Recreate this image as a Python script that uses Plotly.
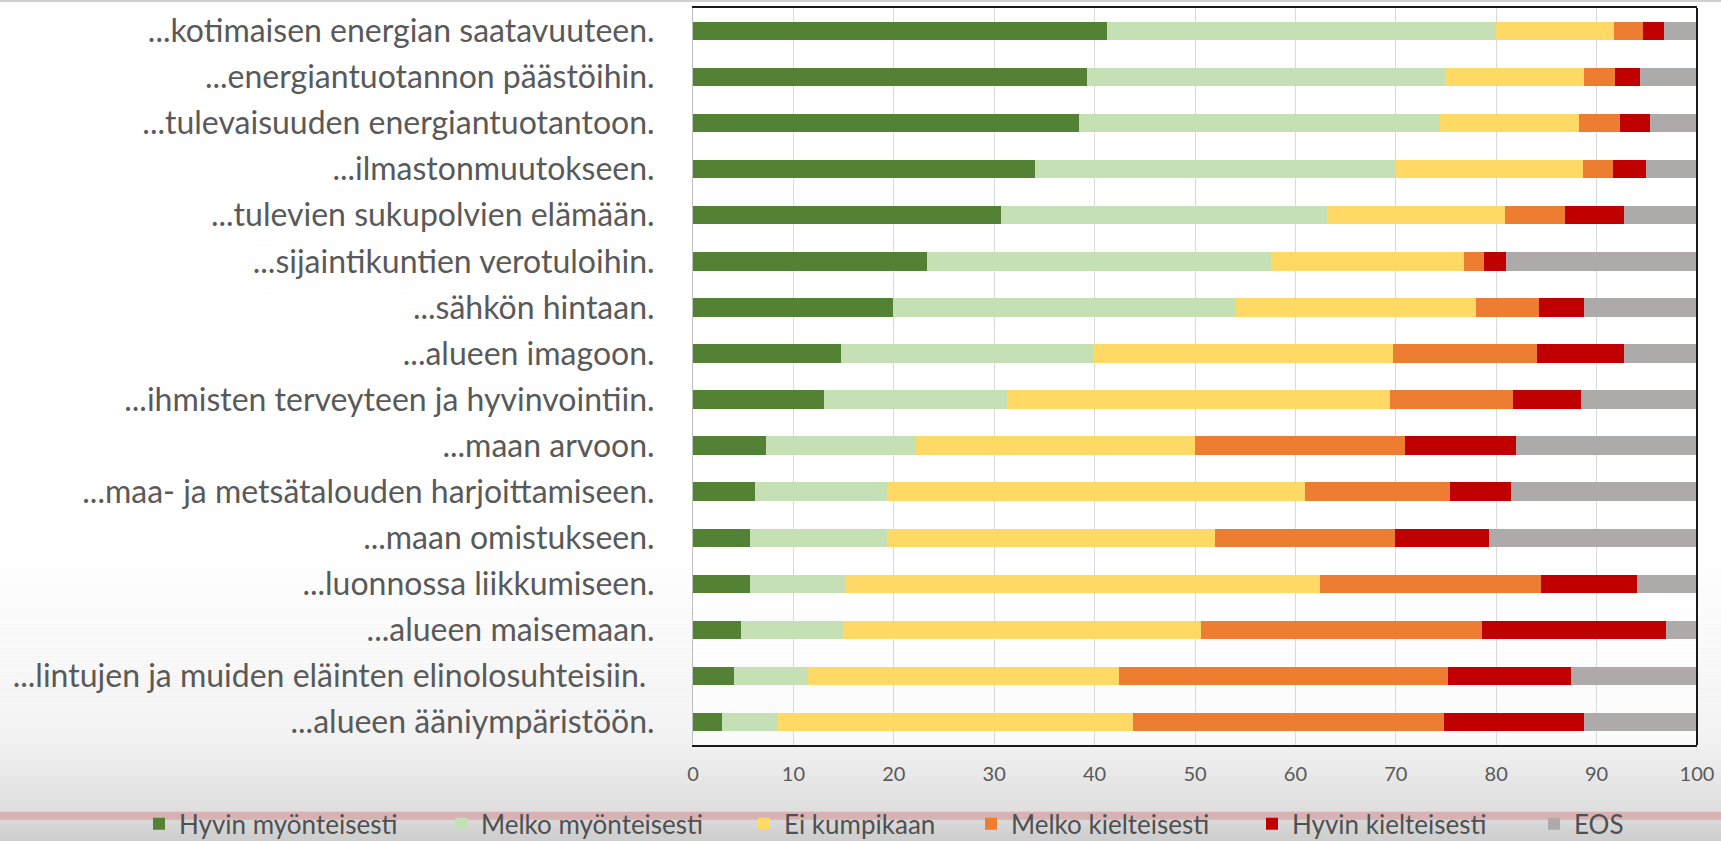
import plotly.graph_objects as go

categories = [
    "...kotimaisen energian saatavuuteen.",
    "...energiantuotannon päästöihin.",
    "...tulevaisuuden energiantuotantoon.",
    "...ilmastonmuutokseen.",
    "...tulevien sukupolvien elämään.",
    "...sijaintikuntien verotuloihin.",
    "...sähkön hintaan.",
    "...alueen imagoon.",
    "...ihmisten terveyteen ja hyvinvointiin.",
    "...maan arvoon.",
    "...maa- ja metsätalouden harjoittamiseen.",
    "...maan omistukseen.",
    "...luonnossa liikkumiseen.",
    "...alueen maisemaan.",
    "...lintujen ja muiden eläinten elinolosuhteisiin.\u00a0",
    "...alueen ääniympäristöön.",
]

series_names = ["Hyvin myönteisesti", "Melko myönteisesti", "Ei kumpikaan",
                "Melko kielteisesti", "Hyvin kielteisesti", "EOS"]

hyvin_myonteisesti = [41.2, 39.2, 38.4, 34.1, 30.7, 23.3, 19.9, 14.7, 13.0, 7.3, 6.2, 5.7, 5.7, 4.8, 4.1, 2.9]
melko_myonteisesti = [38.8, 35.7, 36.0, 35.9, 32.4, 34.3, 34.2, 25.1, 18.3, 14.9, 13.1, 13.6, 9.4, 10.1, 7.4, 5.6]
ei_kumpikaan = [11.7, 13.8, 13.8, 18.6, 17.8, 19.2, 23.9, 29.9, 38.1, 27.8, 41.7, 32.7, 47.3, 35.7, 30.9, 35.3]
melko_kielteisesti = [2.9, 3.1, 4.1, 3.0, 6.0, 2.0, 6.3, 14.4, 12.3, 20.9, 14.4, 17.9, 22.1, 28.0, 32.8, 31.0]
hyvin_kielteisesti = [2.1, 2.5, 3.0, 3.3, 5.8, 2.2, 4.4, 8.6, 6.7, 11.1, 6.1, 9.4, 9.5, 18.3, 12.2, 13.9]
eos = [3.3, 5.7, 4.7, 5.1, 7.3, 19.0, 11.3, 7.3, 11.6, 18.0, 18.5, 20.7, 6.0, 3.1, 12.6, 11.3]

x_tick_values = [0, 10, 20, 30, 40, 50, 60, 70, 80, 90, 100]

series_values = [hyvin_myonteisesti, melko_myonteisesti, ei_kumpikaan,
                 melko_kielteisesti, hyvin_kielteisesti, eos]
colors = ["#548235", "#C5E0B4", "#FFD966", "#ED7D31", "#C00000", "#AEAAAA"]

W, H = 1721, 841          # visible window
HF = 872                   # figure height (bottom part falls outside the window)
PL, PR, PT, PB = 693, 1697, 6, 745  # plot area in px
pw, ph = PR - PL, PB - PT

def px_x(px):
    return (px - PL) / pw

def px_y(py):
    return (PB - py) / ph

FONT = "Lato, 'Open Sans', sans-serif"
TXT = "#595959"

fig = go.Figure()
legend_px = [139, 441, 744, 971, 1252, 1534]
legend_keys = ["legend", "legend2", "legend3", "legend4", "legend5", "legend6"]

for name, vals, col, lk in zip(series_names, series_values, colors, legend_keys):
    fig.add_trace(go.Bar(
        y=categories, x=vals, name=name, orientation="h",
        marker=dict(color=col, line=dict(width=0)),
        legend=lk,
    ))

# background gradient (video-frame shading)
shapes = []
def lerp(a, b, t):
    return int(round(a + (b - a) * t))
stops = [(0, 255), (540, 255), (640, 250), (740, 242), (812, 222), (841, 205), (HF, 200)]
y = 0
step = 4
while y < HF:
    yc = y + step / 2
    c = stops[-1][1]
    for (y0, c0), (y1, c1) in zip(stops[:-1], stops[1:]):
        if y0 <= yc <= y1:
            c = lerp(c0, c1, (yc - y0) / (y1 - y0))
            break
    shapes.append(dict(type="rect", xref="paper", yref="paper",
                       x0=px_x(-5), x1=px_x(W + 5), y0=px_y(y + step + 0.5), y1=px_y(y),
                       fillcolor=f"rgb({c},{c},{c})", line=dict(width=0), layer="below"))
    y += step
# lighter plot area
shapes.append(dict(type="rect", xref="paper", yref="paper", x0=0, x1=1, y0=0, y1=1,
                   fillcolor="rgba(255,255,255,0.65)", line=dict(width=0), layer="below"))
# right border
shapes.append(dict(type="line", xref="paper", yref="paper", x0=1, x1=1, y0=0, y1=1,
                   line=dict(color="#1a1a1a", width=2), layer="above"))
# video progress band
shapes.append(dict(type="line", xref="paper", yref="paper", x0=px_x(-5), x1=px_x(W + 5),
                   y0=px_y(816), y1=px_y(816),
                   line=dict(color="rgba(215,170,172,0.85)", width=8), layer="below"))

layout_legends = {}
for lk, lx in zip(legend_keys, legend_px):
    layout_legends[lk] = dict(
        orientation="h", x=px_x(lx), xanchor="left", y=px_y(824), yanchor="middle",
        font=dict(family=FONT, size=26, color="#505050"), bgcolor="rgba(0,0,0,0)",
        borderwidth=0,
    )

fig.update_layout(
    width=W, height=HF,
    barmode="stack", bargap=0.6,
    margin=dict(l=PL, r=W - PR, t=PT, b=HF - PB, pad=0),
    paper_bgcolor="#cfcfcf", plot_bgcolor="rgba(0,0,0,0)",
    font=dict(family=FONT, color=TXT),
    shapes=shapes,
    showlegend=True,
    **layout_legends,
    xaxis=dict(range=[0, 100], tickvals=x_tick_values, ticktext=[str(v) for v in x_tick_values],
               showgrid=True, gridcolor="#d9d9d9", gridwidth=1, zeroline=False,
               showline=True, linecolor="#1a1a1a", linewidth=2, mirror=True,
               ticks="", tickfont=dict(family=FONT, size=20, color=TXT),
               ticklabelstandoff=10, fixedrange=True),
    yaxis=dict(autorange="reversed", showgrid=False, zeroline=False,
               showline=True, linecolor="#bfbfbf", linewidth=1,
               ticks="", tickfont=dict(family=FONT, size=32, color=TXT),
               ticklabelstandoff=31, fixedrange=True),
)

fig.write_html(
    "out.html",
    config={"displayModeBar": False},
    post_script=("document.body.style.margin='0';"
                 "document.body.style.overflow='hidden';"
                 "document.documentElement.style.overflow='hidden';"
                 "document.body.style.background='#cfcfcf';"),
)
